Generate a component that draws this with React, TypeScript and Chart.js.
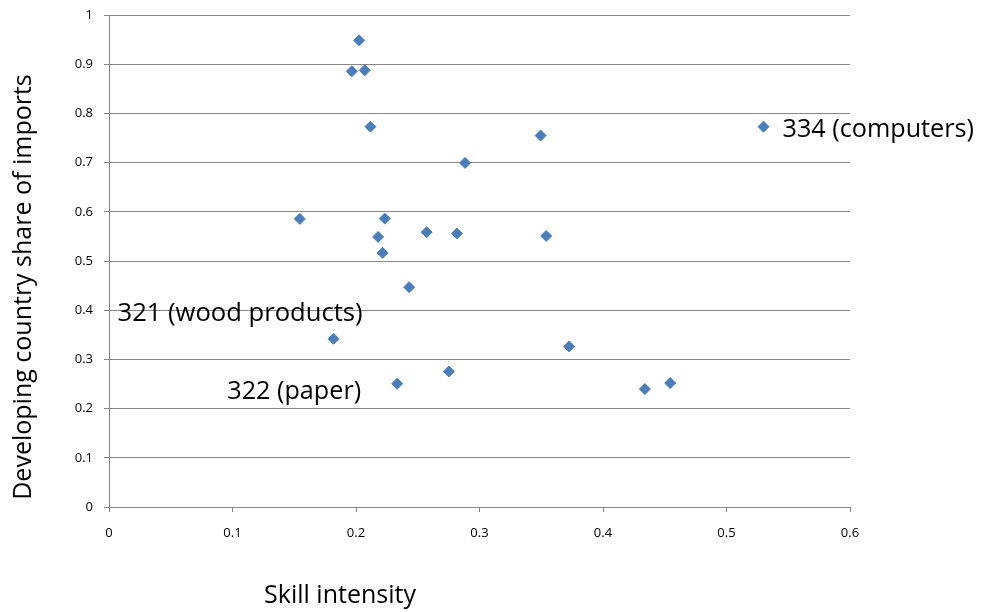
import React, { useEffect, useRef } from "react";
import { Chart, registerables } from "chart.js";

Chart.register(...registerables);

const skillIntensity = [
  0.2025, 0.1966, 0.2071, 0.2117, 0.1545, 0.2233, 0.2179, 0.2215, 0.53, 0.3495,
  0.2883, 0.2572, 0.2817, 0.354, 0.243, 0.1818, 0.2333, 0.2752, 0.3726, 0.4339,
  0.4544,
];
const developingShare = [
  0.9486, 0.8856, 0.8877, 0.773, 0.5856, 0.5862, 0.549, 0.5166, 0.773, 0.755,
  0.6994, 0.5586, 0.5558, 0.551, 0.4469, 0.3419, 0.2505, 0.2755, 0.3262, 0.2397,
  0.2519,
];
const labelIndex = [8, 15, 16];
const labelText = ["334 (computers)", "321 (wood products)", "322 (paper)"];
const labelSide = ["right", "left", "left"];
const labelDx = [19, 29, -36];
const labelDy = [10, -18, 15];

const xTitle = "Skill intensity";
const yTitle = "Developing country share of imports";

const FONT = "'Open Sans', sans-serif";
const GRID = "#878787";

const textPlugin = {
  id: "textPlugin",
  afterDraw(chart: any) {
    const ctx = chart.ctx;
    const xs = chart.scales.x;
    const ys = chart.scales.y;
    const area = chart.chartArea;
    ctx.save();
    ctx.fillStyle = "#000";
    ctx.textBaseline = "alphabetic";
    labelIndex.forEach((idx, i) => {
      const px = xs.getPixelForValue(skillIntensity[idx]);
      const py = ys.getPixelForValue(developingShare[idx]);
      ctx.font = `${i === 1 ? 25.6 : 25.2}px ${FONT}`;
      ctx.textAlign = labelSide[i] === "right" ? "left" : "right";
      ctx.fillText(labelText[i], px + labelDx[i], py + labelDy[i]);
    });
    // axis titles
    ctx.font = `25px ${FONT}`;
    ctx.textAlign = "center";
    ctx.fillText(xTitle, area.left + 231, area.bottom + 96);
    ctx.translate(31, area.top + 272);
    ctx.rotate(-Math.PI / 2);
    ctx.fillText(yTitle, 0, 0);
    ctx.restore();
  },
};

export default function App() {
  const ref = useRef<HTMLCanvasElement>(null);
  useEffect(() => {
    if (!ref.current) return;
    const points = skillIntensity.map((x, i) => ({ x, y: developingShare[i] }));
    const fmt = (v: any) => String(Math.round(Number(v) * 10) / 10);
    const chart = new Chart(ref.current, {
      type: "scatter",
      data: {
        datasets: [
          {
            data: points,
            pointStyle: "rectRot",
            pointRadius: 5.5,
            pointHoverRadius: 5.5,
            backgroundColor: "#4A7EBB",
            borderColor: "#4A7EBB",
            borderWidth: 1,
            showLine: false,
          },
        ],
      },
      options: {
        animation: false,
        responsive: false,
        events: [],
        layout: { padding: { top: 15, right: 135, left: 0, bottom: 0 } },
        plugins: { legend: { display: false }, tooltip: { enabled: false } },
        scales: {
          x: {
            type: "linear",
            min: 0,
            max: 0.6,
            ticks: {
              stepSize: 0.1,
              callback: fmt,
              color: "#000",
              font: { family: FONT, size: 13 },
              padding: 13,
              maxRotation: 0,
            },
            grid: { drawOnChartArea: false, drawTicks: true, tickLength: 5, color: GRID },
            border: { display: true, color: GRID },
            afterFit: (s: any) => {
              s.height = 105;
            },
          },
          y: {
            type: "linear",
            min: 0,
            max: 1,
            ticks: {
              stepSize: 0.1,
              callback: fmt,
              color: "#000",
              font: { family: FONT, size: 13 },
              padding: 11,
            },
            grid: { drawOnChartArea: true, drawTicks: true, tickLength: 5, color: GRID },
            border: { display: true, color: GRID },
            afterFit: (s: any) => {
              s.width = 109;
              s.paddingTop = 0;
              s.paddingBottom = 0;
            },
          },
        },
      },
      plugins: [textPlugin],
    });
    return () => chart.destroy();
  }, []);
  return (
    <div style={{ position: "absolute", left: 0, top: 0, width: 985, height: 612, background: "#fff" }}>
      <canvas ref={ref} width={985} height={612} style={{ width: 985, height: 612, display: "block" }} />
    </div>
  );
}
